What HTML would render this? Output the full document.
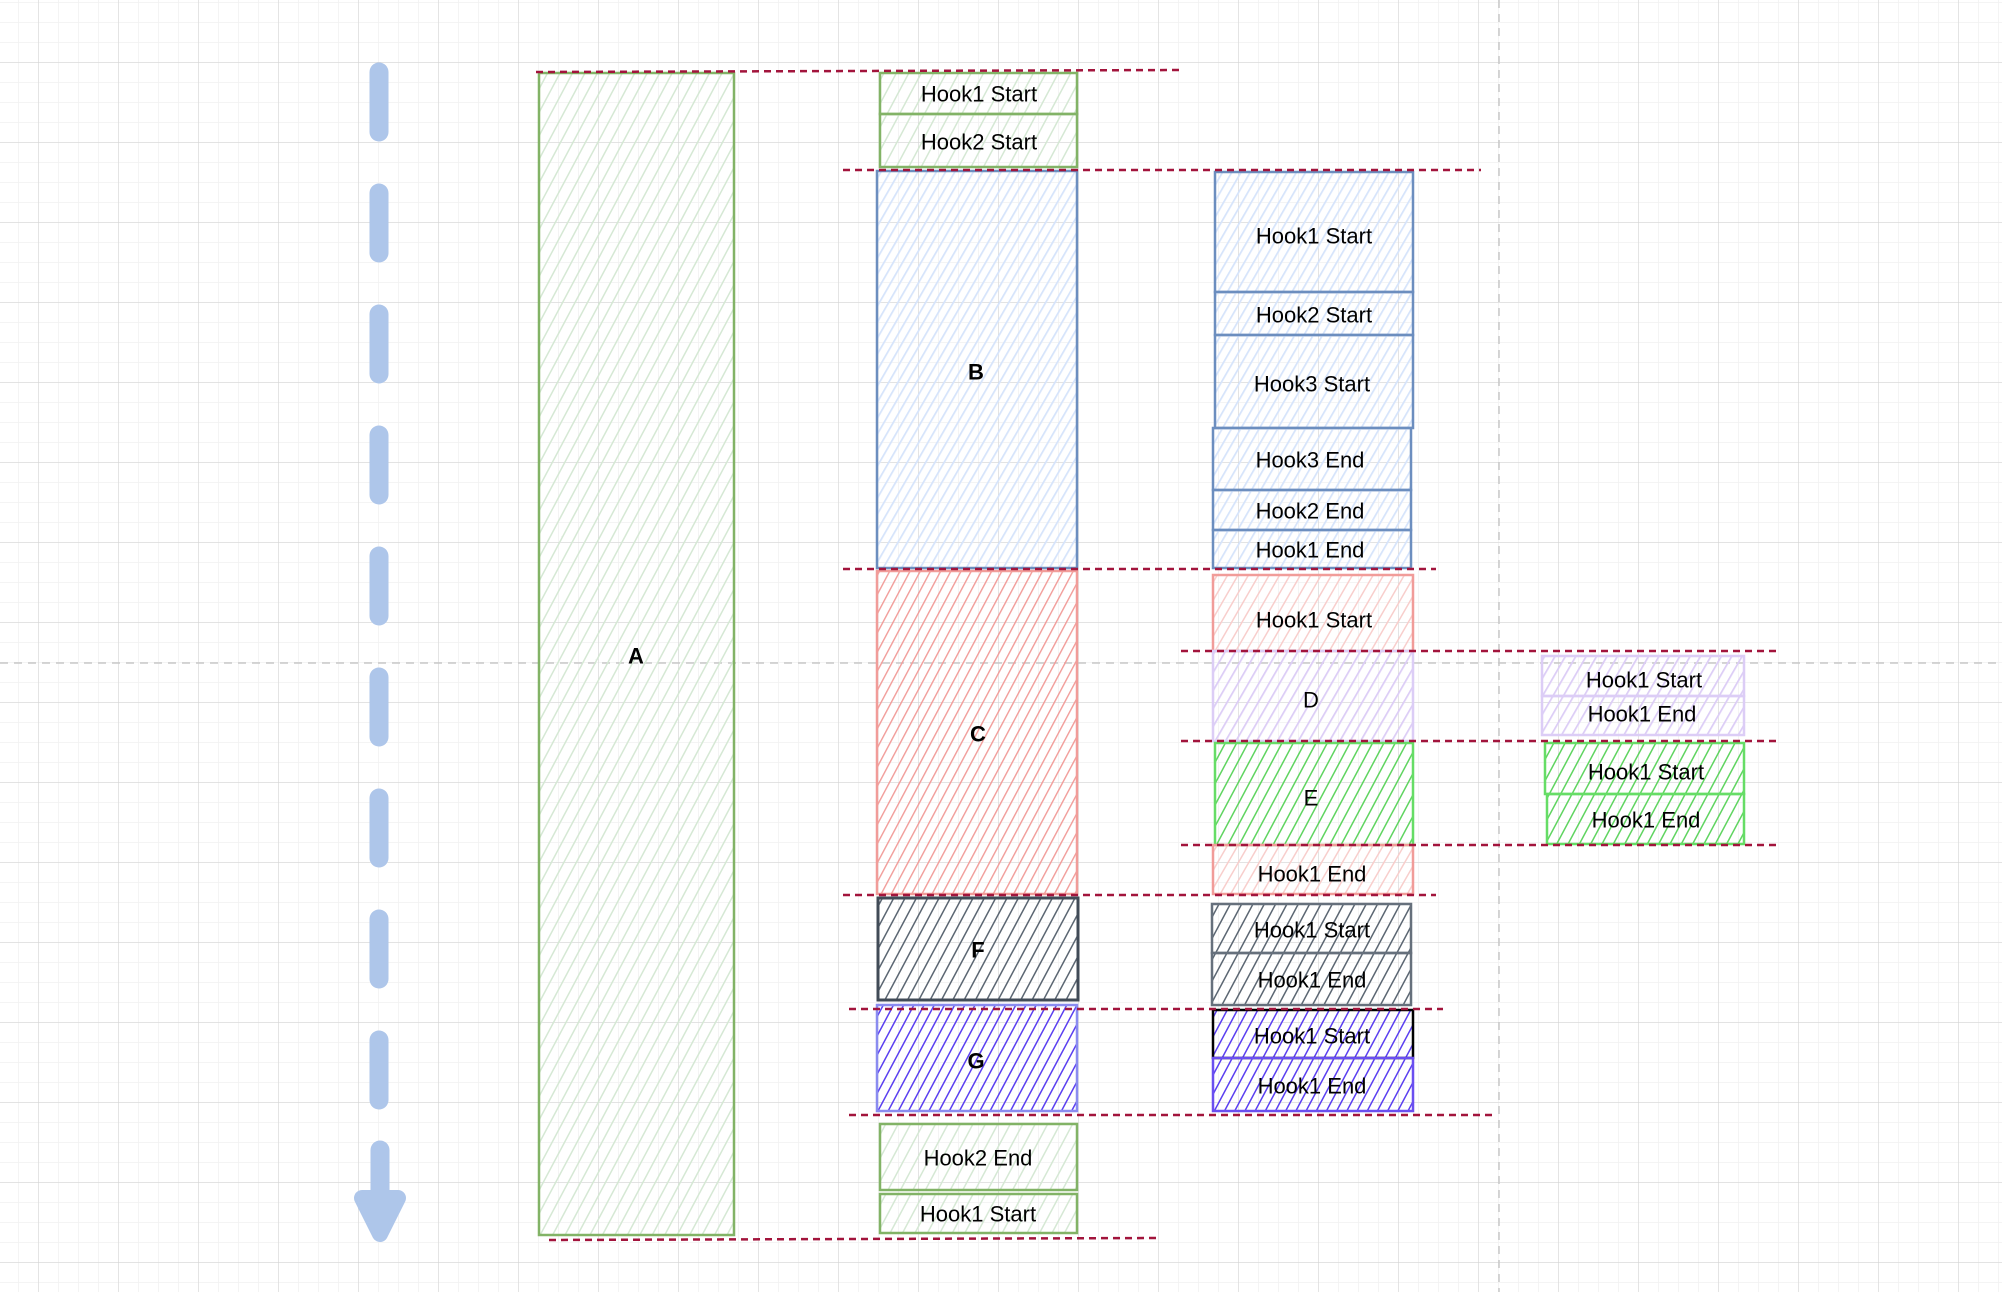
<!DOCTYPE html>
<html><head><meta charset="utf-8"><style>
html,body{margin:0;padding:0;background:#fff}
svg{display:block}
text{font-family:"Liberation Sans",sans-serif;font-size:22px;fill:#000;text-anchor:middle;dominant-baseline:central}
.b{font-weight:bold}
</style></head><body>
<svg width="2002" height="1292" viewBox="0 0 2002 1292" xmlns="http://www.w3.org/2000/svg">
<defs>
<pattern id="gmin" x="38" y="62" width="20" height="20" patternUnits="userSpaceOnUse"><path d="M0 0H20M0 0V20" stroke="#f1f1f1" stroke-width="1.5" fill="none"/></pattern>
<pattern id="gmaj" x="38" y="62" width="80" height="80" patternUnits="userSpaceOnUse"><path d="M0 0H80M0 0V80" stroke="#d6d6d6" stroke-width="1.2" fill="none"/></pattern>
<pattern id="hG" width="11" height="11" patternUnits="userSpaceOnUse" patternTransform="rotate(28)"><path d="M0 0V11" stroke="#d5e8d4" stroke-width="3"/></pattern>
<pattern id="hB" width="8" height="8" patternUnits="userSpaceOnUse" patternTransform="rotate(30)"><path d="M0 0V8" stroke="#d6e4fb" stroke-width="3.5"/></pattern>
<pattern id="hR" width="9" height="9" patternUnits="userSpaceOnUse" patternTransform="rotate(28)"><path d="M0 0V9" stroke="#f19c99" stroke-width="2.8"/></pattern>
<pattern id="hRl" width="9" height="9" patternUnits="userSpaceOnUse" patternTransform="rotate(30)"><path d="M0 0V9" stroke="#f8cecc" stroke-width="3"/></pattern>
<pattern id="hL" width="9" height="9" patternUnits="userSpaceOnUse" patternTransform="rotate(30)"><path d="M0 0V9" stroke="#dccdf6" stroke-width="3.5"/></pattern>
<pattern id="hE" width="10" height="10" patternUnits="userSpaceOnUse" patternTransform="rotate(28)"><path d="M0 0V10" stroke="#5fd460" stroke-width="3"/></pattern>
<pattern id="hF" width="10" height="10" patternUnits="userSpaceOnUse" patternTransform="rotate(28)"><path d="M0 0V10" stroke="#5b6672" stroke-width="3"/></pattern>
<pattern id="hP" width="9" height="9" patternUnits="userSpaceOnUse" patternTransform="rotate(28)"><path d="M0 0V9" stroke="#5a3ff0" stroke-width="3"/></pattern>
</defs>
<rect width="2002" height="1292" fill="url(#gmin)"/>
<rect width="2002" height="1292" fill="url(#gmaj)"/>
<line x1="1499" y1="0" x2="1499" y2="1292" stroke="#c8c8c8" stroke-width="1.5" stroke-dasharray="8 6"/>
<line x1="0" y1="663" x2="2002" y2="663" stroke="#c8c8c8" stroke-width="1.5" stroke-dasharray="8 6"/>

<!-- arrow -->
<line x1="379" y1="72" x2="379" y2="1150" stroke="#aec6ea" stroke-width="19" stroke-linecap="round" stroke-dasharray="60 61"/>
<path d="M380 1150V1195" stroke="#aec6ea" stroke-width="19" stroke-linecap="round"/>
<path d="M362 1198L398 1198L380 1234Z" fill="#aec6ea" stroke="#aec6ea" stroke-width="16" stroke-linejoin="round"/>

<g stroke-width="2.5">
<rect x="539" y="73" width="195" height="1162" fill="url(#hG)" stroke="#82b366"/>
<rect x="880" y="73" width="197" height="41" fill="url(#hG)" stroke="#82b366"/>
<rect x="880" y="114" width="197" height="53" fill="url(#hG)" stroke="#82b366"/>
<rect x="877" y="171" width="200" height="397" fill="url(#hB)" stroke="#6c8ebf"/>
<rect x="877" y="571" width="200" height="323" fill="url(#hR)" stroke="#f19c99"/>
<rect x="878" y="898" width="200" height="102" fill="url(#hF)" stroke="#414b57" stroke-width="3"/>
<rect x="877" y="1005" width="200" height="106" fill="url(#hP)" stroke="#8a8cf0"/>
<rect x="880" y="1124" width="197" height="66" fill="url(#hG)" stroke="#82b366"/>
<rect x="880" y="1194" width="197" height="39" fill="url(#hG)" stroke="#82b366"/>
<rect x="1215" y="172" width="198" height="120" fill="url(#hB)" stroke="#6c8ebf"/>
<rect x="1215" y="292" width="198" height="43" fill="url(#hB)" stroke="#6c8ebf"/>
<rect x="1215" y="335" width="198" height="93" fill="url(#hB)" stroke="#6c8ebf"/>
<rect x="1213" y="428" width="198" height="62" fill="url(#hB)" stroke="#6c8ebf"/>
<rect x="1213" y="490" width="198" height="40" fill="url(#hB)" stroke="#6c8ebf"/>
<rect x="1213" y="530" width="198" height="38" fill="url(#hB)" stroke="#6c8ebf"/>
<rect x="1213" y="575" width="200" height="76" fill="url(#hRl)" stroke="#f19c99"/>
<rect x="1213" y="651" width="200" height="90" fill="url(#hL)" stroke="#dccdf6"/>
<rect x="1215" y="743" width="198" height="102" fill="url(#hE)" stroke="#66dd66"/>
<rect x="1213" y="845" width="200" height="49" fill="url(#hRl)" stroke="#f19c99"/>
<rect x="1212" y="904" width="199" height="49" fill="url(#hF)" stroke="#66707c"/>
<rect x="1212" y="953" width="199" height="52" fill="url(#hF)" stroke="#66707c"/>
<rect x="1213" y="1010" width="200" height="48" fill="url(#hP)" stroke="#000"/>
<rect x="1213" y="1058" width="200" height="53" fill="url(#hP)" stroke="#6a4ff0"/>
<rect x="1542" y="656" width="202" height="40" fill="url(#hL)" stroke="#dccdf6"/>
<rect x="1542" y="696" width="202" height="39" fill="url(#hL)" stroke="#dccdf6"/>
<rect x="1545" y="743" width="199" height="51" fill="url(#hE)" stroke="#66dd66"/>
<rect x="1547" y="794" width="197" height="50" fill="url(#hE)" stroke="#66dd66"/>
</g>

<g stroke="#a2143c" stroke-width="2.5" stroke-dasharray="7 5">
<line x1="536" y1="72" x2="1181" y2="70"/>
<line x1="843" y1="170" x2="1481" y2="170"/>
<line x1="843" y1="569" x2="1436" y2="569"/>
<line x1="1181" y1="651" x2="1777" y2="651"/>
<line x1="1181" y1="741" x2="1777" y2="741"/>
<line x1="1181" y1="845" x2="1777" y2="845"/>
<line x1="843" y1="895" x2="1436" y2="895"/>
<line x1="849" y1="1009" x2="1443" y2="1009"/>
<line x1="849" y1="1115" x2="1494" y2="1115"/>
<line x1="549" y1="1240" x2="1156" y2="1238"/>
</g>

<text x="636" y="656" class="b">A</text>
<text x="979" y="94">Hook1 Start</text>
<text x="979" y="142">Hook2 Start</text>
<text x="976" y="372" class="b">B</text>
<text x="978" y="734" class="b">C</text>
<text x="978" y="950" class="b">F</text>
<text x="976" y="1061" class="b">G</text>
<text x="978" y="1158">Hook2 End</text>
<text x="978" y="1214">Hook1 Start</text>

<text x="1314" y="236">Hook1 Start</text>
<text x="1314" y="315">Hook2 Start</text>
<text x="1312" y="384">Hook3 Start</text>
<text x="1310" y="460">Hook3 End</text>
<text x="1310" y="511">Hook2 End</text>
<text x="1310" y="550">Hook1 End</text>
<text x="1314" y="620">Hook1 Start</text>
<text x="1311" y="700">D</text>
<text x="1311" y="798">E</text>
<text x="1312" y="874">Hook1 End</text>
<text x="1312" y="930">Hook1 Start</text>
<text x="1312" y="980">Hook1 End</text>
<text x="1312" y="1036">Hook1 Start</text>
<text x="1312" y="1086">Hook1 End</text>

<text x="1644" y="680">Hook1 Start</text>
<text x="1642" y="714">Hook1 End</text>
<text x="1646" y="772">Hook1 Start</text>
<text x="1646" y="820">Hook1 End</text>
</svg>
</body></html>
